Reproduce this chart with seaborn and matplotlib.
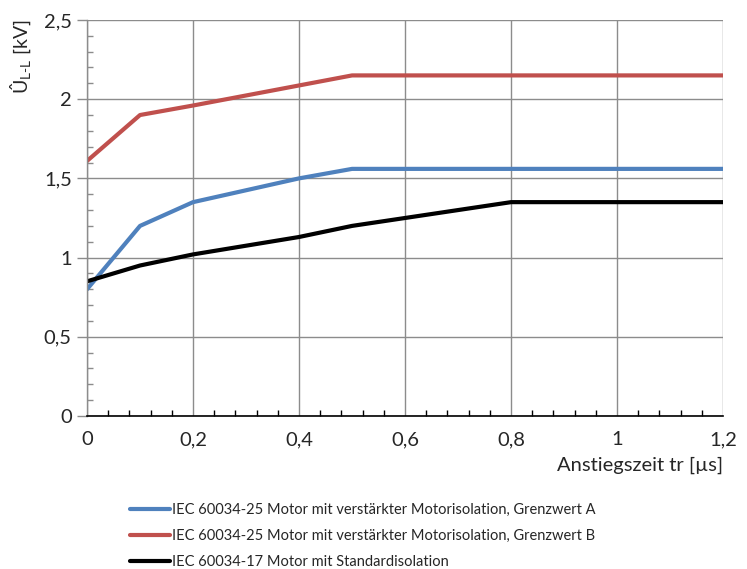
import numpy as np
import pandas as pd
import matplotlib
matplotlib.use("Agg")
import matplotlib.pyplot as plt
from matplotlib.ticker import MultipleLocator, FuncFormatter
import seaborn as sns

# values
x_a = [0, 0.1, 0.2, 0.4, 0.5, 1.2]
y_a = [0.80, 1.20, 1.35, 1.50, 1.56, 1.56]
x_b = [0, 0.1, 0.2, 0.5, 1.2]
y_b = [1.61, 1.90, 1.96, 2.15, 2.15]
x_std = [0, 0.1, 0.2, 0.4, 0.5, 0.8, 1.2]
y_std = [0.85, 0.95, 1.02, 1.13, 1.20, 1.35, 1.35]

labels = [
    "IEC 60034-25 Motor mit verstärkter Motorisolation, Grenzwert A",
    "IEC 60034-25 Motor mit verstärkter Motorisolation, Grenzwert B",
    "IEC 60034-17 Motor mit Standardisolation",
]
colors = ["#4F81BD", "#C0504D", "#000000"]

frames = []
for lab, xs, ys in zip(labels, [x_a, x_b, x_std], [y_a, y_b, y_std]):
    frames.append(pd.DataFrame({"t": xs, "u": ys, "serie": lab}))
df = pd.concat(frames, ignore_index=True)

sns.set_style("white")
plt.rcParams["font.family"] = ["Lato", "DejaVu Sans"]
plt.rcParams["mathtext.fontset"] = "custom"
plt.rcParams["mathtext.rm"] = "Lato"

fig = plt.figure(figsize=(7.47, 5.69), dpi=100)
ax = fig.add_axes([0.1165, 0.2689, 0.8515, 0.696])

sns.lineplot(data=df, x="t", y="u", hue="serie", palette=colors,
             hue_order=labels, linewidth=3, sort=False, estimator=None, ax=ax)

ax.set_xlim(0, 1.2)
ax.set_ylim(0, 2.5)
ax.xaxis.set_major_locator(MultipleLocator(0.2))
ax.xaxis.set_minor_locator(MultipleLocator(0.04))
ax.yaxis.set_major_locator(MultipleLocator(0.5))
ax.yaxis.set_minor_locator(MultipleLocator(0.1))

fmt = FuncFormatter(lambda v, p: ("%g" % round(v, 2)).replace(".", ","))
ax.xaxis.set_major_formatter(fmt)
ax.yaxis.set_major_formatter(fmt)

grid_col = "#8c8c8c"
ax.grid(True, which="major", color=grid_col, linewidth=1)
ax.set_axisbelow(True)
for s in ["top", "right"]:
    ax.spines[s].set_visible(False)
ax.spines["left"].set_color(grid_col)
ax.spines["left"].set_linewidth(1)
ax.spines["bottom"].set_color("black")
ax.spines["bottom"].set_linewidth(1.2)

ax.tick_params(axis="x", which="major", direction="inout", length=8, width=1,
               color="black", labelsize=14.5, pad=7)
ax.tick_params(axis="x", which="minor", direction="in", length=4, width=1,
               color="black", bottom=True)
ax.tick_params(axis="y", which="major", direction="out", length=7, width=1,
               color=grid_col, labelsize=14.5, pad=4, left=True)
ax.tick_params(axis="y", which="minor", direction="in", length=4, width=1,
               color=grid_col, left=True)

ax.set_xlabel("Anstiegszeit tr [µs]", fontsize=14.5, loc="right", labelpad=6)
ax.set_ylabel(r"Û$_{\mathrm{L\text{-}L}}$ [kV]", fontsize=14, loc="top", labelpad=8)

ax.legend(loc="upper left", bbox_to_anchor=(0.0676, -0.22), frameon=False,
          fontsize=10.5, handlelength=2.75, handletextpad=0.1, labelspacing=0.82,
          borderaxespad=0, borderpad=0)

fig.savefig("out.png", dpi=100)
